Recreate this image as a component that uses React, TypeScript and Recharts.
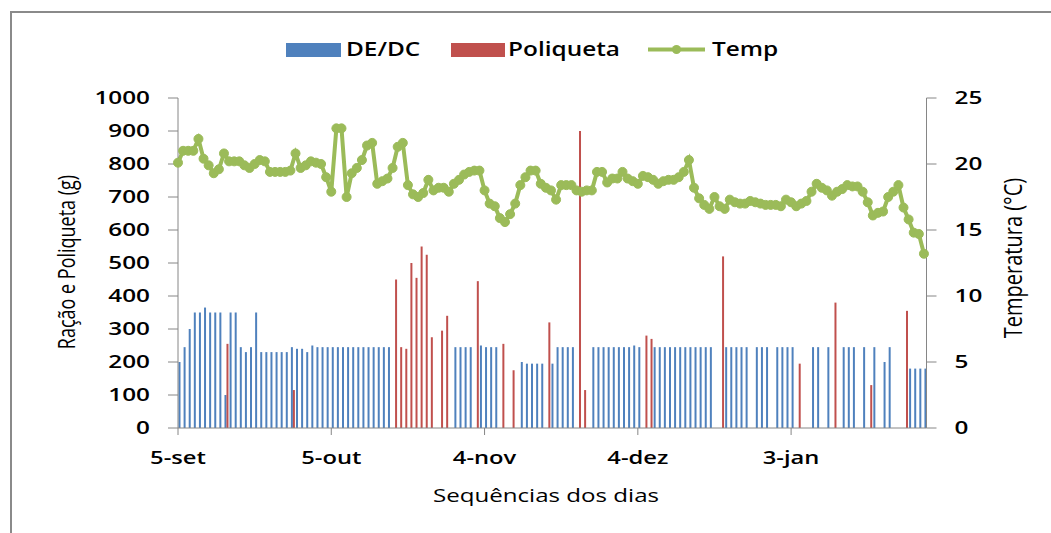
import React from 'react';
import { ComposedChart, Bar, Line, XAxis, YAxis, Label } from 'recharts';

// Temperature (°C), one value per day starting 5-set (day 0)
const tempC: number[] = [
  20.1, 21.0, 21.0, 21.0, 21.9, 20.4, 19.9, 19.3, 19.6, 20.8,
  20.2, 20.2, 20.2, 19.9, 19.7, 20.0, 20.3, 20.2, 19.4, 19.4,
  19.4, 19.4, 19.5, 20.8, 19.7, 19.9, 20.2, 20.1, 20.0, 19.0,
  17.9, 22.7, 22.7, 17.5, 19.3, 19.7, 20.3, 21.4, 21.6, 18.5,
  18.7, 18.9, 19.7, 21.3, 21.6, 18.4, 17.7, 17.5, 17.8, 18.8,
  18.0, 18.2, 18.2, 17.9, 18.5, 18.8, 19.2, 19.4, 19.5, 19.5,
  18.0, 17.0, 16.8, 15.9, 15.6, 16.2, 17.0, 18.4, 19.0, 19.5,
  19.5, 18.5, 18.2, 18.0, 17.3, 18.4, 18.4, 18.4, 18.0, 17.9,
  18.0, 18.0, 19.4, 19.4, 18.6, 18.9, 18.9, 19.4, 18.9, 18.7,
  18.5, 19.1, 19.0, 18.8, 18.5, 18.7, 18.8, 18.8, 19.0, 19.4,
  20.3, 18.2, 17.4, 16.9, 16.6, 17.5, 16.8, 16.6, 17.3, 17.1,
  17.0, 17.0, 17.2, 17.1, 17.0, 16.9, 16.9, 16.9, 16.8, 17.3,
  17.1, 16.8, 17.0, 17.2, 17.9, 18.5, 18.2, 18.0, 17.6, 17.9,
  18.1, 18.4, 18.3, 18.3, 17.9, 17.1, 16.1, 16.3, 16.4, 17.5,
  17.9, 18.4, 16.7, 15.8, 14.8, 14.7, 13.2,
];

// DE/DC ration (g): [day, grams]
const deDc: [number, number][] = [
  [0, 200], [1, 245], [2, 300], [3, 350], [4, 350], [5, 365], [6, 350], [7, 350], [8, 350], [9, 100],
  [10, 350], [11, 350], [12, 245], [13, 230], [14, 245], [15, 350], [16, 230], [17, 230], [18, 230], [19, 230],
  [20, 230], [21, 230], [22, 245], [23, 240], [24, 240], [25, 230], [26, 250], [27, 245], [28, 245], [29, 245],
  [30, 245], [31, 245], [32, 245], [33, 245], [34, 245], [35, 245], [36, 245], [37, 245], [38, 245], [39, 245],
  [40, 245], [41, 245],
  [54, 245], [55, 245], [56, 245], [57, 245], [59, 250], [60, 245], [61, 245], [62, 245],
  [67, 200], [68, 195], [69, 195], [70, 195], [71, 195], [73, 195], [74, 245], [75, 245], [76, 245], [77, 245],
  [81, 245], [82, 245], [83, 245], [84, 245], [85, 245], [86, 245], [87, 245], [88, 245], [89, 250], [90, 245],
  [93, 245], [94, 245], [95, 245], [96, 245], [97, 245], [98, 245], [99, 245], [100, 245], [101, 245], [102, 245],
  [103, 245], [104, 245], [107, 245], [108, 245], [109, 245], [110, 245], [111, 245], [113, 245], [114, 245], [115, 245],
  [117, 245], [118, 245], [119, 245], [120, 245], [124, 245], [125, 245], [127, 245], [130, 245], [131, 245], [132, 245],
  [134, 245], [136, 245], [138, 200], [139, 245], [143, 180], [144, 180], [145, 180], [146, 180],
];

// Poliqueta (g): [day, grams]
const poliqueta: [number, number][] = [
  [9, 255], [22, 115], [42, 450], [43, 245], [44, 240], [45, 500], [46, 455], [47, 550], [48, 525], [49, 275],
  [51, 295], [52, 340], [58, 445], [63, 255], [65, 175], [72, 320], [78, 900], [79, 115], [91, 280], [92, 270],
  [106, 520], [121, 195], [128, 380], [135, 130], [142, 355],
];

const xTickDays = [0, 30, 60, 90, 120];
const xTickLabels = ['5-set', '5-out', '4-nov', '4-dez', '3-jan'];
const leftTicks = [0, 100, 200, 300, 400, 500, 600, 700, 800, 900, 1000];
const rightTicks = [0, 5, 10, 15, 20, 25];

const deDcMap = new Map(deDc);
const poliMap = new Map(poliqueta);
const data = tempC.map((t, day) => ({
  day,
  temp: t,
  dedc: deDcMap.has(day) ? deDcMap.get(day) : null,
  poli: poliMap.has(day) ? poliMap.get(day) : null,
}));

const BLUE = '#4F81BD';
const RED = '#C0504D';
const GREEN = '#9BBB59';
const AXIS = '#868686';
const FONT = "'Open Sans', 'DejaVu Sans', sans-serif";

const LeftTick = (props: any) => {
  const { x, y, payload } = props;
  return (
    <g transform={`translate(${x},${y})`}>
      <text transform="scale(1.35,1)" textAnchor="end" dy="0.36em" fontSize={18} fontWeight={600} fontFamily={FONT} fill="#000">
        {payload.value}
      </text>
    </g>
  );
};

const RightTick = (props: any) => {
  const { x, y, payload } = props;
  return (
    <g transform={`translate(${x},${y})`}>
      <text transform="scale(1.35,1)" textAnchor="start" dy="0.36em" fontSize={18} fontWeight={600} fontFamily={FONT} fill="#000">
        {payload.value}
      </text>
    </g>
  );
};

const BottomTick = (props: any) => {
  const { x, y, payload } = props;
  const idx = xTickDays.indexOf(payload.value);
  return (
    <g transform={`translate(${x},${y})`}>
      <text transform="scale(1.32,1)" textAnchor="middle" dy="0.71em" fontSize={18} fontWeight={600} fontFamily={FONT} fill="#000">
        {idx >= 0 ? xTickLabels[idx] : ''}
      </text>
    </g>
  );
};

export default function App() {
  return (
    <div style={{ position: 'absolute', left: 0, top: 0, width: 1051, height: 533, overflow: 'hidden', background: '#fff' }}>
      <div
        style={{
          position: 'absolute',
          left: 10,
          top: 11,
          width: 1100,
          height: 600,
          border: '2px solid #8a8a8a',
          boxSizing: 'border-box',
        }}
      />
      <div style={{ position: 'absolute', left: 0, top: 0 }}>
        <ComposedChart
          width={1051}
          height={533}
          data={data}
          margin={{ top: 98, right: 64.5, left: 118, bottom: 75 }}
          barGap={0}
        >
          <XAxis
            dataKey="day"
            type="number"
            domain={[0, 146.5]}
            ticks={xTickDays}
            interval={0}
            height={30}
            stroke={AXIS}
            tickLine={{ stroke: AXIS }}
            tickSize={7}
            tickMargin={16}
            tick={<BottomTick />}
          >
            <Label
              content={() => (
                <text transform="translate(546,502) scale(1.34,1)" textAnchor="middle" fontSize={18} fontFamily={FONT} fill="#000">
                  Sequências dos dias
                </text>
              )}
            />
          </XAxis>
          <XAxis xAxisId="bars" dataKey="day" type="number" domain={[-0.4, 146.1]} hide />
          <YAxis
            yAxisId="left"
            orientation="left"
            domain={[0, 1000]}
            ticks={leftTicks}
            interval={0}
            width={60}
            stroke={AXIS}
            tickLine={{ stroke: AXIS }}
            tickSize={10}
            tickMargin={18}
            tick={<LeftTick />}
          >
            <Label
              content={() => (
                <text transform="translate(67,262) rotate(-90) scale(1,1.3)" textAnchor="middle" dy="0.35em" fontSize={18} fontFamily={FONT} fill="#000">
                  Ração e Poliqueta (g)
                </text>
              )}
            />
          </YAxis>
          <YAxis
            yAxisId="right"
            orientation="right"
            domain={[0, 25]}
            ticks={rightTicks}
            interval={0}
            width={60}
            stroke={AXIS}
            tickLine={{ stroke: AXIS }}
            tickSize={10}
            tickMargin={18}
            tick={<RightTick />}
          >
            <Label
              content={() => (
                <text transform="translate(1013,258) rotate(-90) scale(1,1.3)" textAnchor="middle" dy="0.35em" fontSize={20} fontFamily={FONT} fill="#000">
                  Temperatura (°C)
                </text>
              )}
            />
          </YAxis>
          <Bar xAxisId="bars" yAxisId="left" dataKey="dedc" name="DE/DC" fill={BLUE} barSize={2} isAnimationActive={false} />
          <Bar xAxisId="bars" yAxisId="left" dataKey="poli" name="Poliqueta" fill={RED} barSize={2} isAnimationActive={false} />
          <Line
            yAxisId="right"
            dataKey="temp"
            name="Temp"
            type="linear"
            stroke={GREEN}
            strokeWidth={4}
            dot={{ r: 4.5, fill: GREEN, stroke: GREEN, strokeWidth: 1 }}
            activeDot={false}
            isAnimationActive={false}
          />
        </ComposedChart>
      </div>
      <svg width={1051} height={533} style={{ position: 'absolute', left: 0, top: 0, pointerEvents: 'none' }}>
        <rect x={286} y={43} width={55} height={14} fill={BLUE} />
        <text transform="translate(346,56) scale(1.22,1)" fontSize={20} fontWeight={600} fontFamily={FONT} fill="#000">DE/DC</text>
        <rect x={451} y={43} width={54} height={14} fill={RED} />
        <text transform="translate(508,56) scale(1.22,1)" fontSize={20} fontWeight={600} fontFamily={FONT} fill="#000">Poliqueta</text>
        <line x1={648} y1={49.5} x2={705} y2={49.5} stroke={GREEN} strokeWidth={4} />
        <circle cx={676.5} cy={49.5} r={4.5} fill={GREEN} />
        <text transform="translate(712,56) scale(1.22,1)" fontSize={20} fontWeight={600} fontFamily={FONT} fill="#000">Temp</text>
      </svg>
    </div>
  );
}
